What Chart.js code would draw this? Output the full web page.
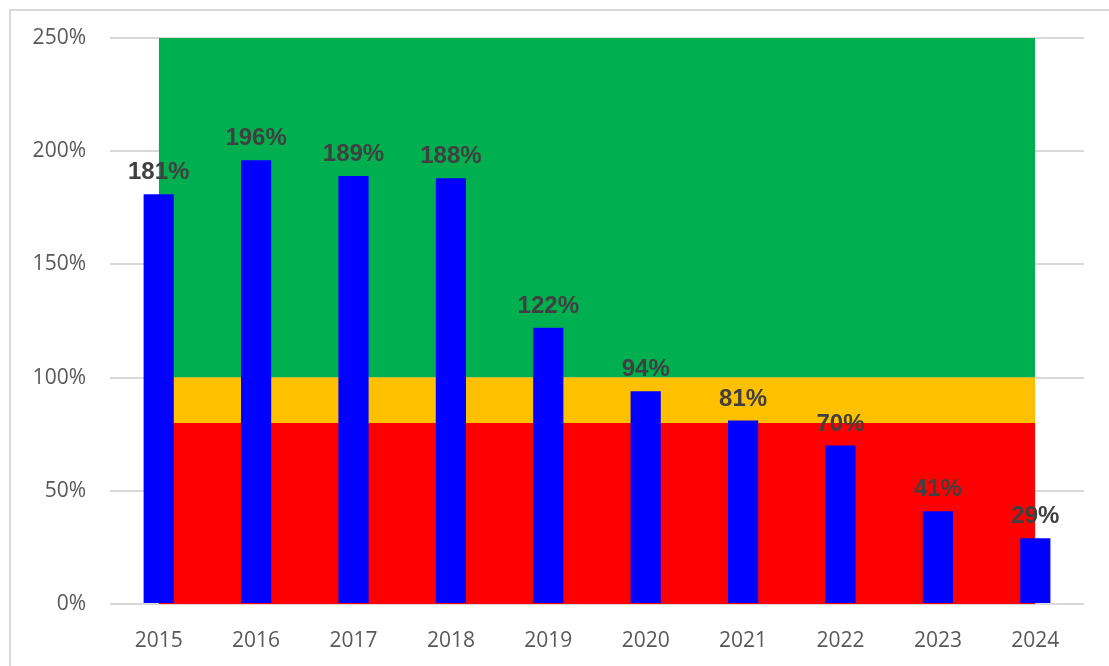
<!DOCTYPE html>
<html>
<head>
<meta charset="utf-8">
<script src="https://cdn.jsdelivr.net/npm/chart.js@4/dist/chart.umd.min.js"></script>
<style>
  html, body { margin: 0; padding: 0; background: #fff; overflow: hidden; }
  #frame {
    position: absolute; left: 9px; top: 9px; width: 1120px; height: 680px;
    border: 2px solid #d9d9d9; box-sizing: border-box;
  }
  #wrap { position: absolute; left: 0; top: 0; width: 1109px; height: 666px; }
</style>
</head>
<body>
<div id="frame"></div>
<div id="wrap"><canvas id="chart"></canvas></div>
<script>
// chart data
const years = ['2015', '2016', '2017', '2018', '2019', '2020', '2021', '2022', '2023', '2024'];
const ratio = [181, 196, 189, 188, 122, 94, 81, 70, 41, 29];
// background bands (upper edge of each band)
const redBand = [80, 80, 80, 80, 80, 80, 80, 80, 80, 80];
const yellowBand = [100, 100, 100, 100, 100, 100, 100, 100, 100, 100];
const greenBand = [250, 250, 250, 250, 250, 250, 250, 250, 250, 250];
const yTicks = [0, 50, 100, 150, 200, 250];

const tickColor = '#595959';
const gridColor = '#d9d9d9';

// Draw the % label above each bar
const barLabels = {
    id: 'barLabels',
    afterDatasetsDraw(chart) {
        const ctx = chart.ctx;
        const meta = chart.getDatasetMeta(0);
        ctx.save();
        ctx.font = 'bold 24px "Liberation Sans", Arial, sans-serif';
        ctx.fillStyle = '#404040';
        ctx.textAlign = 'center';
        ctx.textBaseline = 'alphabetic';
        meta.data.forEach((bar, i) => {
            ctx.fillText(ratio[i] + '%', bar.x, bar.y - 15);
        });
        ctx.restore();
    }
};

const band = (data, color, fill) => ({
    type: 'line',
    data: data,
    backgroundColor: color,
    borderColor: color,
    borderWidth: 0,
    pointRadius: 0,
    fill: fill,
    order: 1
});

new Chart(document.getElementById('chart').getContext('2d'), {
    type: 'bar',
    data: {
        labels: years,
        datasets: [
            {
                data: ratio,
                backgroundColor: '#0000ff',
                categoryPercentage: 1,
                barPercentage: 0.31,
                order: 0
            },
            band(redBand, '#ff0000', 'origin'),
            band(yellowBand, '#ffc000', '-1'),
            band(greenBand, '#00b050', '-1')
        ]
    },
    options: {
        responsive: true,
        maintainAspectRatio: false,
        animation: false,
        layout: { padding: { top: 38, right: 25, left: 0, bottom: 0 } },
        plugins: {
            legend: { display: false },
            tooltip: { enabled: false }
        },
        scales: {
            x: {
                grid: { display: false },
                border: { display: false },
                ticks: {
                    color: tickColor,
                    padding: 16,
                    font: { family: '"Open Sans", sans-serif', size: 21 }
                },
                afterFit(scale) { scale.height = 62; }
            },
            y: {
                min: 0,
                max: 250,
                afterBuildTicks(scale) { scale.ticks = yTicks.map(v => ({ value: v })); },
                grid: { color: gridColor, lineWidth: 2, drawTicks: false },
                border: { display: false },
                ticks: {
                    color: tickColor,
                    padding: 24,
                    font: { family: '"Open Sans", sans-serif', size: 21 },
                    callback: v => v + '%'
                },
                afterFit(scale) { scale.width = 110; }
            }
        }
    },
    plugins: [barLabels]
});
</script>
</body>
</html>
